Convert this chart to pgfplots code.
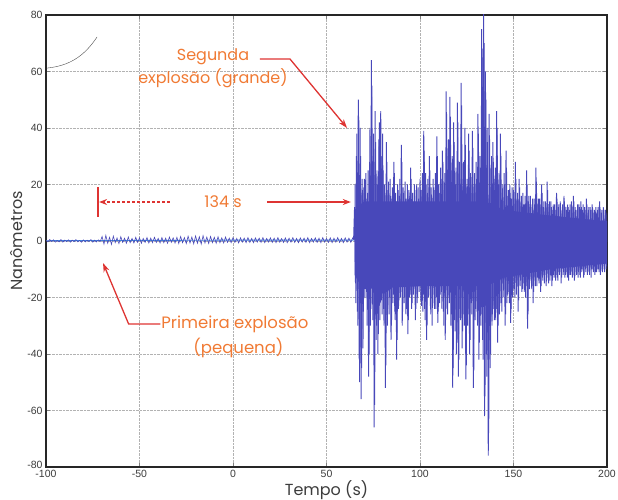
\documentclass[border=0pt]{standalone}
\usepackage{fontspec}
\setmainfont{Poppins}
\newfontfamily\tickfont{Liberation Sans}
\usepackage{pgfplots}
\pgfplotsset{compat=1.18}
\usetikzlibrary{arrows.meta}
\definecolor{seis}{RGB}{72,72,186}
\definecolor{seisbase}{RGB}{60,140,225}
\definecolor{annot}{RGB}{240,122,52}
\definecolor{arrowred}{RGB}{222,52,50}
\definecolor{labgray}{RGB}{60,60,60}

\begin{document}
\begin{tikzpicture}[x=1pt,y=1pt]
\useasboundingbox (0,0) rectangle (618,500);
\begin{axis}[
  at={(46pt,33pt)}, anchor=south west,
  scale only axis, width=561pt, height=452pt,
  xmin=-100, xmax=200, ymin=-80, ymax=80,
  xtick={-100,-50,0,50,100,150,200},
  xticklabels={-100,-50,0,50,100,150,200},
  ytick={-80,-60,-40,-20,0,20,40,60,80},
  yticklabels={\raisebox{4pt}{-80},-60,-40,-20,0,20,40,60,80},
  ticklabel style={font=\tickfont\fontsize{10.5}{12}\selectfont, text=labgray},
  major tick length=4pt,
  grid=major,
  grid style={densely dotted, draw=black!30, line width=0.5pt},
  axis line style={line width=1.1pt, draw=black!85},
  xlabel={Tempo (s)}, ylabel={Nanômetros},
  label style={font=\fontsize{16}{18}\selectfont, text=labgray},
  xlabel style={at={(axis description cs:0.5,-0.052)}, anchor=center},
  ylabel style={at={(axis description cs:-0.052,0.5)}, anchor=center},
]
% baseline before the second explosion
\addplot[seisbase, line width=0.9pt] coordinates {(-100,0.1)(-50,0.2)(0,0.3)(64.5,0.3)};
% quiet record, -100 to 64
\addplot[seis, line width=0.6pt] coordinates {
(-100,0.3)(-99,-0.3)(-98,0.5)(-97,-0.2)(-96,0.4)(-95,-0.4)(-94,0.2)(-93,-0.3)(-92,0.5)(-91,-0.4)
(-90,0.3)(-89,-0.2)(-88,0.4)(-87,-0.4)(-86,0.3)(-85,-0.2)(-84,0.5)(-83,-0.3)(-82,0.2)(-81,-0.4)
(-80,0.4)(-79,-0.3)(-78,0.3)(-77,-0.2)(-76,0.5)(-75,-0.4)(-74,0.3)(-73,-0.3)(-72,0.4)(-71,-0.2)
(-70,1.6)(-69,-1.1)(-68,2.0)(-67,-0.8)(-66,1.3)(-65,-1.2)(-64,1.7)(-63,-0.6)(-62,1.1)(-61,-0.9)
(-60,1.5)(-59,-0.5)(-58,1.0)(-57,-0.8)(-56,1.4)(-55,-0.6)(-54,0.9)(-53,-0.7)(-52,1.3)(-51,-0.5)
(-50,1.1)(-49,-0.8)(-48,0.9)(-47,-0.5)(-46,1.2)(-45,-0.7)(-44,1.0)(-43,-0.6)(-42,1.3)(-41,-0.5)
(-40,0.9)(-39,-0.7)(-38,1.2)(-37,-0.6)(-36,1.0)(-35,-0.8)(-34,1.4)(-33,-0.5)(-32,1.1)(-31,-0.7)
(-30,1.3)(-29,-0.9)(-28,1.6)(-27,-0.6)(-26,1.2)(-25,-0.9)(-24,1.7)(-23,-0.7)(-22,1.4)(-21,-1.0)
(-20,1.8)(-19,-0.8)(-18,1.5)(-17,-1.1)(-16,1.9)(-15,-0.7)(-14,1.4)(-13,-0.9)(-12,1.6)(-11,-0.6)
(-10,1.3)(-9,-0.8)(-8,1.5)(-7,-0.6)(-6,1.1)(-5,-0.7)(-4,1.4)(-3,-0.5)(-2,1.0)(-1,-0.6)
(0,1.2)(1,-0.5)(2,0.9)(3,-0.7)(4,1.1)(5,-0.4)(6,1.0)(7,-0.6)(8,1.2)(9,-0.5)
(10,0.9)(11,-0.6)(12,1.1)(13,-0.4)(14,1.0)(15,-0.5)(16,1.2)(17,-0.6)(18,0.9)(19,-0.4)
(20,1.1)(21,-0.5)(22,1.0)(23,-0.6)(24,1.2)(25,-0.4)(26,0.9)(27,-0.5)(28,1.1)(29,-0.6)
(30,1.0)(31,-0.4)(32,1.2)(33,-0.5)(34,0.9)(35,-0.6)(36,1.1)(37,-0.4)(38,1.0)(39,-0.5)
(40,1.2)(41,-0.6)(42,0.9)(43,-0.4)(44,1.1)(45,-0.5)(46,1.0)(47,-0.6)(48,1.2)(49,-0.4)
(50,0.9)(51,-0.5)(52,1.1)(53,-0.6)(54,1.0)(55,-0.4)(56,1.2)(57,-0.5)(58,0.9)(59,-0.6)
(60,1.1)(61,-0.4)(62,1.0)(63,-0.5)(64,1.1)(64.5,0.5)
};
% dense core of the large record
\addplot[fill=seis, draw=none] coordinates {
(65,11)(70,14)(100,14)(135,14)(145,11)(170,9)(200,7)
(200,-8)(170,-10)(145,-13)(135,-16)(100,-16)(70,-17)(65,-12)
} -- cycle;
% large record, 65 to 200 (samples on whole and half seconds)
\addplot[seis, line width=0.95pt] coordinates {
(64.5,0.5)(65,12)(65.5,-15)(66,30)(66.5,-25)(67,50)(67.5,-42)(68,40)(68.5,-56)(69,22)(69.5,-38)
(70,19)(70.5,-20)(71,24)(71.5,-18)(72,17)(72.5,-48)(73,28)(73.5,-30)(74,64)(74.5,-22)
(75,30)(75.5,-66)(76,46)(76.5,-35)(77,25)(77.5,-40)(78,36)(78.5,-28)(79,46)(79.5,-21)
(80,38)(80.5,-24)(81,20)(81.5,-52)(82,35)(82.5,-30)(83,18)(83.5,-26)(84,22)(84.5,-35)
(85,15)(85.5,-22)(86,28)(86.5,-25)(87,17)(87.5,-42)(88,20)(88.5,-24)(89,16)(89.5,-20)
(90,34)(90.5,-30)(91,19)(91.5,-22)(92,21)(92.5,-26)(93,15)(93.5,-33)(94,18)(94.5,-20)
(95,26)(95.5,-24)(96,17)(96.5,-19)(97,20)(97.5,-28)(98,16)(98.5,-22)(99,19)(99.5,-18)
(100,22)(100.5,-21)(101,18)(101.5,-25)(102,39)(102.5,-24)(103,24)(103.5,-35)(104,17)(104.5,-20)
(105,30)(105.5,-23)(106,19)(106.5,-30)(107,22)(107.5,-19)(108,18)(108.5,-24)(109,37)(109.5,-29)
(110,20)(110.5,-22)(111,26)(111.5,-18)(112,32)(112.5,-25)(113,18)(113.5,-35)(114,53)(114.5,-24)
(115,30)(115.5,-20)(116,51)(116.5,-30)(117,25)(117.5,-52)(118,42)(118.5,-28)(119,20)(119.5,-40)
(120,49)(120.5,-48)(121,28)(121.5,-24)(122,56)(122.5,-38)(123,22)(123.5,-26)(124,40)(124.5,-49)
(125,19)(125.5,-30)(126,38)(126.5,-40)(127,24)(127.5,-22)(128,39)(128.5,-52)(129,20)(129.5,-28)
(130,28)(130.5,-25)(131,45)(131.5,-42)(132,30)(132.5,-30)(133,75)(133.5,-35)(134,82)(134.5,-62)
(135,60)(135.5,-40)(136,35)(136.5,-76)(137,45)(137.5,-45)(138,26)(138.5,-30)(139,35)(139.5,-24)
(140,22)(140.5,-28)(141,46)(141.5,-36)(142,20)(142.5,-26)(143,38)(143.5,-22)(144,17)(144.5,-20)
(145,24)(145.5,-30)(146,32)(146.5,-22)(147,16)(147.5,-18)(148,20)(148.5,-29)(149,15)(149.5,-20)
(150,18)(150.5,-17)(151,28)(151.5,-19)(152,15)(152.5,-25)(153,22)(153.5,-16)(154,14)(154.5,-18)
(155,17)(155.5,-15)(156,13)(156.5,-20)(157,25)(157.5,-31)(158,14)(158.5,-17)(159,16)(159.5,-15)
(160,12)(160.5,-22)(161,15)(161.5,-14)(162,26)(162.5,-16)(163,13)(163.5,-14)(164,15)(164.5,-18)
(165,20)(165.5,-13)(166,12)(166.5,-15)(167,14)(167.5,-16)(168,21)(168.5,-13)(169,12)(169.5,-14)
(170,14)(170.5,-16)(171,11)(171.5,-12)(172,13)(172.5,-14)(173,17)(173.5,-13)(174,12)(174.5,-12)
(175,14)(175.5,-15)(176,11)(176.5,-12)(177,16)(177.5,-13)(178,12)(178.5,-11)(179,13)(179.5,-14)
(180,11)(180.5,-12)(181,14)(181.5,-13)(182,16)(182.5,-14)(183,12)(183.5,-11)(184,11)(184.5,-13)
(185,13)(185.5,-12)(186,14)(186.5,-11)(187,11)(187.5,-13)(188,12)(188.5,-10)(189,15)(189.5,-12)
(190,11)(190.5,-11)(191,12)(191.5,-13)(192,13)(192.5,-10)(193,10)(193.5,-12)(194,12)(194.5,-11)
(195,11)(195.5,-10)(196,14)(196.5,-12)(197,10)(197.5,-11)(198,12)(198.5,-9)(199,11)(199.5,-10)
(200,10)
};
% large record, samples on quarter seconds
\addplot[seis, line width=0.95pt] coordinates {
(65.25,20)(65.75,-22)(66.25,38)(66.75,-30)(67.25,44)(67.75,-50)(68.25,30)(68.75,-45)(69.25,18)(69.75,-25)
(70.25,22)(70.75,-17)(71.25,15)(71.75,-30)(72.25,25)(72.75,-40)(73.25,40)(73.75,-24)(74.25,55)(74.75,-28)
(75.25,38)(75.75,-58)(76.25,35)(76.75,-30)(77.25,20)(77.75,-33)(78.25,42)(78.75,-22)(79.25,30)(79.75,-26)
(80.25,25)(80.75,-30)(81.25,17)(81.75,-44)(82.25,28)(82.75,-24)(83.25,21)(83.75,-20)(84.25,16)(84.75,-30)
(85.25,19)(85.75,-19)(86.25,24)(86.75,-28)(87.25,14)(87.75,-35)(88.25,18)(88.75,-21)(89.25,22)(89.75,-18)
(90.25,28)(90.75,-25)(91.25,17)(91.75,-20)(92.25,15)(92.75,-24)(93.25,20)(93.75,-28)(94.25,16)(94.75,-19)
(95.25,22)(95.75,-22)(96.25,14)(96.75,-17)(97.25,18)(97.75,-24)(98.25,20)(98.75,-20)(99.25,15)(99.75,-16)
(100.25,18)(100.75,-23)(101.25,24)(101.75,-19)(102.25,32)(102.75,-28)(103.25,20)(103.75,-30)(104.25,22)(104.75,-17)
(105.25,25)(105.75,-26)(106.25,16)(106.75,-22)(107.25,19)(107.75,-24)(108.25,24)(108.75,-20)(109.25,30)(109.75,-25)
(110.25,17)(110.75,-19)(111.25,22)(111.75,-24)(112.25,28)(112.75,-30)(113.25,24)(113.75,-28)(114.25,45)(114.75,-26)
(115.25,36)(115.75,-22)(116.25,44)(116.75,-26)(117.25,30)(117.75,-45)(118.25,35)(118.75,-32)(119.25,26)(119.75,-36)
(120.25,42)(120.75,-42)(121.25,22)(121.75,-28)(122.25,48)(122.75,-32)(123.25,28)(123.75,-30)(124.25,34)(124.75,-44)
(125.25,22)(125.75,-26)(126.25,32)(126.75,-35)(127.25,20)(127.75,-26)(128.25,33)(128.75,-46)(129.25,24)(129.75,-24)
(130.25,22)(130.75,-30)(131.25,38)(131.75,-36)(132.25,26)(132.75,-26)(133.25,65)(133.75,-42)(134.25,70)(134.75,-55)
(135.25,50)(135.75,-48)(136.25,40)(136.75,-68)(137.25,36)(137.75,-40)(138.25,30)(138.75,-26)(139.25,28)(139.75,-28)
(140.25,26)(140.75,-24)(141.25,40)(141.75,-30)(142.25,24)(142.75,-22)(143.25,30)(143.75,-25)(144.25,20)(144.75,-17)
(145.25,20)(145.75,-26)(146.25,26)(146.75,-19)(147.25,18)(147.75,-22)(148.25,17)(148.75,-24)(149.25,19)(149.75,-17)
(150.25,15)(150.75,-20)(151.25,22)(151.75,-16)(152.25,17)(152.75,-21)(153.25,19)(153.75,-14)(154.25,16)(154.75,-17)
(155.25,13)(155.75,-18)(156.25,16)(156.75,-16)(157.25,20)(157.75,-26)(158.25,16)(158.75,-14)(159.25,13)(159.75,-17)
(160.25,15)(160.75,-18)(161.25,13)(161.75,-16)(162.25,21)(162.75,-13)(163.25,15)(163.75,-15)(164.25,13)(164.75,-16)
(165.25,17)(165.75,-14)(166.25,14)(166.75,-12)(167.25,12)(167.75,-14)(168.25,18)(168.75,-15)(169.25,14)(169.75,-12)
(170.25,12)(170.75,-14)(171.25,13)(171.75,-13)(172.25,11)(172.75,-12)(173.25,15)(173.75,-14)(174.25,13)(174.75,-11)
(175.25,12)(175.75,-13)(176.25,13)(176.75,-11)(177.25,14)(177.75,-12)(178.25,11)(178.75,-13)(179.25,12)(179.75,-12)
(180.25,13)(180.75,-11)(181.25,12)(181.75,-12)(182.25,14)(182.75,-13)(183.25,11)(183.75,-12)(184.25,13)(184.75,-11)
(185.25,12)(185.75,-13)(186.25,12)(186.75,-10)(187.25,13)(187.75,-12)(188.25,11)(188.75,-11)(189.25,13)(189.75,-11)
(190.25,12)(190.75,-12)(191.25,11)(191.75,-10)(192.25,12)(192.75,-11)(193.25,11)(193.75,-11)(194.25,10)(194.75,-10)
(195.25,12)(195.75,-11)(196.25,12)(196.75,-10)(197.25,11)(197.75,-10)(198.25,10)(198.75,-11)(199.25,11)(199.75,-9)
};
% scan mark in the upper left corner
\draw[black!70, line width=0.4pt] (axis cs:-99.5,61.2) .. controls (axis cs:-88,62) and (axis cs:-80,65) .. (axis cs:-72.7,72.2);
% annotations
\node[font=\fontsize{16}{23}\selectfont, text=annot, align=center] at (axis cs:-10.7,61) {Segunda\\explosão (grande)};
\draw[arrowred, line width=1.3pt, -{Stealth[length=9pt,width=6pt]}] (axis cs:14.4,64.4) -- (axis cs:30.5,64.4) -- (axis cs:61,40);
\draw[arrowred, line width=1.3pt] (axis cs:-72.2,8.5) -- (axis cs:-72.2,19);
\draw[arrowred, line width=1.1pt, densely dashed, -{Stealth[length=8pt,width=6pt,sep=0pt]}] (axis cs:-33.7,13.8) -- (axis cs:-71.6,13.8);
\draw[arrowred, line width=1.1pt, -{Stealth[length=8pt,width=6pt]}] (axis cs:18.2,13.8) -- (axis cs:63,13.8);
\node[font=\fontsize{16}{23}\selectfont, text=annot] at (axis cs:-5.3,14) {134 s};
\draw[arrowred, line width=1.3pt, -{Stealth[length=9pt,width=6pt]}] (axis cs:-38.8,-29.4) -- (axis cs:-55.8,-29.4) -- (axis cs:-69.5,-7.8);
\node[font=\fontsize{16.5}{23}\selectfont, text=annot, anchor=west, inner sep=0pt] at (axis cs:-38.4,-29.4) {Primeira explosão};
\node[font=\fontsize{16.5}{23}\selectfont, text=annot] at (axis cs:2.9,-37.8) {(pequena)};
\end{axis}
\end{tikzpicture}
\end{document}
